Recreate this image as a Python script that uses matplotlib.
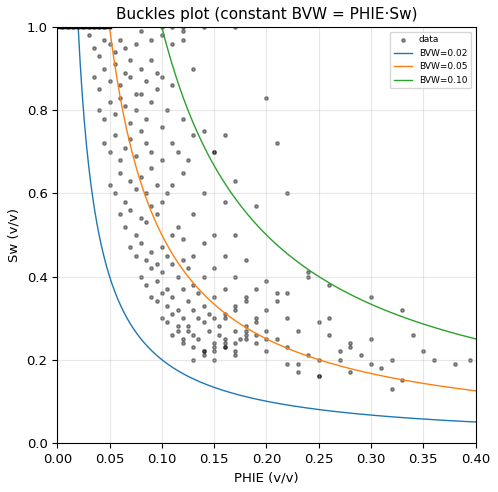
import matplotlib
matplotlib.use("Agg")
import matplotlib.pyplot as plt
import numpy as np

# points read (approximately) off the reference scatter
PHIE = [0.03, 0.035, 0.04, 0.045, 0.05, 0.055, 0.06, 0.065, 0.07, 0.075, 0.08, 0.09, 0.1, 0.11, 0.12,
        0.035, 0.04, 0.045, 0.05, 0.055, 0.06, 0.065, 0.07, 0.075, 0.08, 0.085, 0.09, 0.095,
        0.04, 0.045, 0.05, 0.055, 0.06, 0.065, 0.07, 0.075, 0.08, 0.085, 0.09, 0.095, 0.1,
        0.045, 0.05, 0.055, 0.06, 0.065, 0.07, 0.075, 0.08, 0.085, 0.09, 0.1, 0.105, 0.11,
        0.05, 0.055, 0.06, 0.065, 0.07, 0.075, 0.08, 0.085, 0.09, 0.095, 0.1, 0.11, 0.115, 0.12,
        0.06, 0.065, 0.07, 0.075, 0.08, 0.085, 0.09, 0.095, 0.1, 0.105, 0.11, 0.12, 0.125, 0.13,
        0.07, 0.075, 0.08, 0.085, 0.09, 0.095, 0.1, 0.105, 0.11, 0.115, 0.12, 0.13, 0.14, 0.15,
        0.08, 0.085, 0.09, 0.095, 0.1, 0.105, 0.11, 0.115, 0.12, 0.125, 0.13, 0.14, 0.15, 0.16,
        0.09, 0.095, 0.1, 0.105, 0.11, 0.115, 0.12, 0.125, 0.13, 0.135, 0.14, 0.15, 0.16, 0.17,
        0.1, 0.105, 0.11, 0.115, 0.12, 0.125, 0.13, 0.135, 0.14, 0.145, 0.15, 0.16, 0.17, 0.18,
        0.11, 0.115, 0.12, 0.125, 0.13, 0.14, 0.145, 0.15, 0.155, 0.16, 0.17, 0.18, 0.19, 0.2,
        0.12, 0.13, 0.135, 0.14, 0.15, 0.155, 0.16, 0.17, 0.175, 0.18, 0.19, 0.2, 0.21, 0.22,
        0.13, 0.14, 0.15, 0.16, 0.17, 0.18, 0.19, 0.2, 0.21, 0.22, 0.23, 0.24, 0.25, 0.26,
        0.14, 0.15, 0.16, 0.17, 0.18, 0.19, 0.2, 0.22, 0.24, 0.25, 0.26, 0.27, 0.28, 0.29,
        0.15, 0.16, 0.17, 0.18, 0.2, 0.22, 0.23, 0.25, 0.27, 0.28, 0.3, 0.31, 0.32, 0.33,
        0.16, 0.17, 0.18, 0.19, 0.21, 0.23, 0.25, 0.28, 0.3, 0.32, 0.34, 0.36, 0.38, 0.395,
        0.12, 0.13, 0.14, 0.15, 0.16, 0.17, 0.2, 0.21, 0.22, 0.19, 0.24, 0.26, 0.3, 0.33, 0.35,
        0.005, 0.01, 0.015, 0.02, 0.025, 0.03, 0.035, 0.04, 0.045, 0.1, 0.11, 0.12, 0.14, 0.17]
SW = [0.98, 0.95, 0.93, 0.97, 0.96, 0.94, 0.97, 0.95, 0.92, 0.96, 0.99, 0.97, 0.98, 0.96, 0.99,
      0.88, 0.85, 0.9, 0.87, 0.91, 0.86, 0.89, 0.88, 0.84, 0.9, 0.87, 0.92, 0.89,
      0.8, 0.78, 0.82, 0.79, 0.83, 0.81, 0.77, 0.8, 0.84, 0.78, 0.82, 0.85, 0.88,
      0.72, 0.7, 0.74, 0.68, 0.71, 0.73, 0.69, 0.75, 0.72, 0.7, 0.76, 0.8, 0.86,
      0.62, 0.6, 0.65, 0.58, 0.63, 0.61, 0.64, 0.6, 0.66, 0.62, 0.68, 0.72, 0.7, 0.78,
      0.55, 0.52, 0.56, 0.5, 0.54, 0.53, 0.57, 0.55, 0.58, 0.6, 0.62, 0.65, 0.68, 0.74,
      0.47, 0.45, 0.48, 0.44, 0.46, 0.43, 0.47, 0.45, 0.5, 0.52, 0.49, 0.55, 0.6, 0.7,
      0.4, 0.38, 0.42, 0.39, 0.41, 0.37, 0.43, 0.4, 0.44, 0.42, 0.45, 0.48, 0.5, 0.58,
      0.35, 0.34, 0.36, 0.33, 0.35, 0.32, 0.37, 0.34, 0.38, 0.36, 0.4, 0.42, 0.45, 0.5,
      0.3, 0.29, 0.31, 0.28, 0.3, 0.27, 0.32, 0.3, 0.33, 0.31, 0.35, 0.37, 0.4, 0.44,
      0.26, 0.27, 0.25, 0.28, 0.26, 0.29, 0.27, 0.3, 0.28, 0.31, 0.33, 0.35, 0.37, 0.39,
      0.24, 0.23, 0.25, 0.22, 0.24, 0.26, 0.23, 0.27, 0.25, 0.28, 0.3, 0.32, 0.34, 0.36,
      0.2, 0.21, 0.22, 0.23, 0.24, 0.25, 0.26, 0.27, 0.25, 0.3, 0.27, 0.4, 0.29, 0.26,
      0.22, 0.2, 0.24, 0.22, 0.26, 0.24, 0.22, 0.23, 0.21, 0.2, 0.3, 0.22, 0.24, 0.21,
      0.23, 0.25, 0.21, 0.27, 0.25, 0.19, 0.17, 0.16, 0.2, 0.23, 0.19, 0.18, 0.2, 0.32,
      0.3, 0.32, 0.34, 0.29, 0.36, 0.19, 0.16, 0.17, 0.35, 0.13, 0.26, 0.2, 0.19, 0.2,
      0.97, 0.9, 0.75, 0.7, 0.74, 0.63, 0.83, 0.72, 0.6, 0.57, 0.41, 0.38, 0.25, 0.15, 0.22,
      1.0, 1.0, 1.0, 1.0, 1.0, 1.0, 1.0, 1.0, 1.0, 1.0, 1.0, 1.0, 1.0, 1.0]
BVW_VALUES = [0.02, 0.05, 0.10]
LINE_COLORS = ["#1f77b4", "#ff7f0e", "#2ca02c"]

fig, ax = plt.subplots(figsize=(4.98, 4.92), dpi=100)
fig.subplots_adjust(left=0.115, right=0.955, bottom=0.1, top=0.945)
ax.scatter(PHIE, np.clip(SW, 0, 1), s=6, color="black", alpha=0.4, label="data")
phi = np.linspace(0.001, 0.4, 400)
for bvw, color in zip(BVW_VALUES, LINE_COLORS):
    ax.plot(phi, bvw / phi, color=color, linewidth=1, label=f"BVW={bvw:.2f}")
ax.plot([0, 0.05], [1, 1], color="black", linewidth=2.5)
ax.set_xlim(0, 0.4)
ax.set_ylim(0, 1)
ax.set_xlabel("PHIE (v/v)", fontsize=9.5)
ax.set_ylabel("Sw (v/v)", fontsize=9.5)
ax.tick_params(labelsize=9.5)
ax.set_title("Buckles plot (constant BVW = PHIE·Sw)", fontsize=11)
ax.grid(True, alpha=0.3)
ax.legend(loc="upper right", fontsize=6.5)
fig.savefig("out.png")
